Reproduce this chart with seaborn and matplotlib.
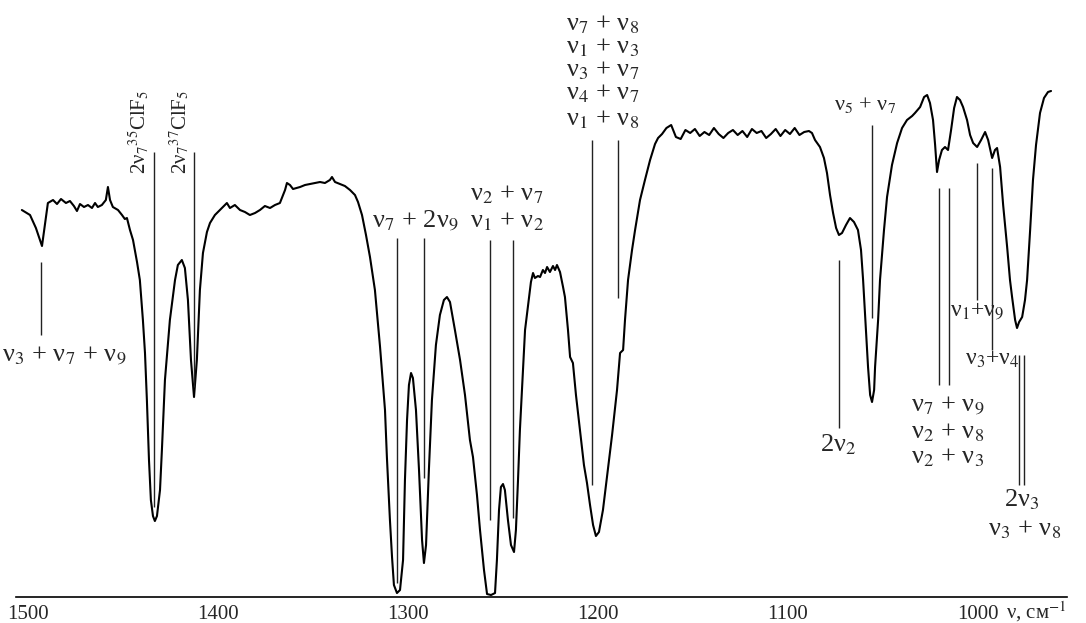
import matplotlib
matplotlib.use("Agg")
import matplotlib.pyplot as plt
import seaborn as sns

# IR spectrum: wavenumber (cm-1) and transmittance (arb. units)
wavenumber = [
    1503.2, 1498.9, 1495.8, 1492.6, 1491.1, 1489.5, 1486.8, 1484.7, 1482.6, 1480.0,
    1477.9, 1475.8, 1474.2, 1472.6, 1470.5, 1468.4, 1466.3, 1464.7, 1463.2, 1461.1,
    1459.0, 1457.9, 1456.8, 1455.3, 1452.6, 1450.5, 1449.0, 1447.9, 1446.3, 1444.7,
    1442.6, 1441.1, 1439.5, 1438.4, 1437.4, 1436.3, 1435.3, 1434.2, 1433.2, 1432.1,
    1430.5, 1429.5, 1427.9, 1425.3, 1422.6, 1421.1, 1419.0, 1417.4, 1415.8, 1414.2,
    1412.6, 1411.1, 1409.5, 1407.9, 1405.8, 1404.2, 1401.6, 1399.0, 1395.3, 1393.7,
    1391.1, 1388.4, 1385.8, 1383.2, 1380.5, 1377.9, 1375.3, 1372.6, 1370.0, 1367.4,
    1364.7, 1363.7, 1362.1, 1360.5, 1356.8, 1354.2, 1351.6, 1349.0, 1346.3, 1343.7,
    1341.1, 1340.0, 1338.4, 1335.8, 1333.2, 1330.5, 1327.9, 1326.3, 1324.2, 1322.1,
    1320.0, 1317.4, 1314.7, 1312.1, 1311.1, 1309.5, 1308.4, 1307.4, 1305.8, 1304.2,
    1302.6, 1301.6, 1300.5, 1299.5, 1298.4, 1297.4, 1295.8, 1294.2, 1292.6, 1291.6,
    1290.5, 1289.0, 1287.4, 1285.3, 1283.2, 1281.1, 1279.5, 1277.9, 1275.3, 1272.6,
    1270.0, 1267.4, 1265.8, 1263.7, 1262.1, 1260.0, 1258.4, 1256.3, 1254.2, 1253.2,
    1252.1, 1251.1, 1250.0, 1249.0, 1247.4, 1245.8, 1244.2, 1243.2, 1242.1, 1241.1,
    1239.5, 1238.4, 1236.8, 1235.3, 1234.2, 1233.2, 1231.6, 1230.5, 1229.0, 1227.9,
    1226.8, 1225.3, 1223.7, 1222.6, 1221.6, 1220.0, 1218.4, 1217.4, 1215.8, 1214.7,
    1213.2, 1211.6, 1209.5, 1207.4, 1205.8, 1204.2, 1202.6, 1201.1, 1199.5, 1197.4,
    1195.3, 1192.6, 1190.0, 1188.4, 1186.8, 1185.8, 1184.2, 1182.1, 1180.5, 1177.9,
    1175.3, 1172.6, 1170.0, 1168.4,
    1166.3, 1164.0, 1161.5, 1159.0, 1156.5, 1154.0, 1151.5, 1149.0, 1146.5, 1144.0,
    1141.5, 1139.0, 1136.5, 1134.0, 1131.5, 1129.0, 1126.5, 1124.0, 1121.5, 1119.0,
    1116.5, 1114.0, 1111.5, 1109.0, 1106.5, 1104.0, 1101.5, 1099.0, 1096.5, 1094.0,
    1091.5, 1089.0,
    1087.4, 1085.8, 1083.2, 1081.1, 1079.5, 1077.9, 1076.3, 1074.7, 1073.2, 1071.6,
    1069.5, 1067.4, 1065.3, 1063.2, 1061.6, 1060.5, 1059.0, 1057.9, 1056.8, 1055.8,
    1054.7, 1054.2, 1052.6, 1051.6, 1049.5, 1047.9, 1045.3, 1042.6, 1040.0, 1037.4,
    1034.7, 1033.2, 1030.5, 1028.4, 1026.8, 1025.3, 1023.7, 1022.6, 1021.6, 1020.5,
    1019.0, 1017.4, 1015.8, 1014.2, 1012.6, 1011.1, 1009.5, 1007.9, 1005.8, 1004.2,
    1002.6, 1000.5, 998.4, 996.3, 994.7, 992.6, 991.1, 990.0, 988.4, 986.8,
    984.7, 983.2, 982.1, 980.5, 979.5, 978.4, 976.8, 975.3, 974.2, 972.6,
    971.1, 969.5, 967.4, 965.3, 963.2, 961.6,
]
transmittance = [
    77.4, 76.4, 73.8, 70.2, 74.4, 78.8, 79.4, 78.6, 79.6, 78.8,
    79.2, 78.2, 77.2, 78.6, 78.0, 78.4, 77.8, 78.8, 78.0, 78.4,
    79.4, 82.0, 79.4, 78.0, 77.4, 76.4, 75.6, 75.8, 73.4, 71.4,
    67.0, 63.4, 55.4, 48.8, 39.4, 27.4, 19.4, 16.2, 15.2, 16.2,
    21.4, 29.4, 43.4, 55.4, 63.4, 66.4, 67.4, 65.8, 59.4, 47.4,
    40.0, 47.4, 61.4, 68.8, 73.0, 74.8, 76.4, 77.4, 78.8, 77.8,
    78.4, 77.4, 77.0, 76.4, 76.8, 77.4, 78.2, 77.8, 78.4, 78.8,
    81.4, 82.8, 82.4, 81.6, 82.0, 82.4, 82.6, 82.8, 83.0, 82.8,
    83.4, 84.0, 83.0, 82.6, 82.2, 81.4, 80.4, 79.0, 76.4, 72.4,
    68.0, 61.4, 50.0, 37.4, 28.0, 15.4, 8.0, 2.4, 0.8, 1.4,
    7.4, 23.4, 35.4, 42.4, 44.8, 43.8, 37.4, 25.4, 11.4, 6.8,
    10.4, 25.4, 39.4, 50.4, 56.4, 59.4, 60.0, 59.0, 53.4, 47.4,
    40.4, 31.4, 28.0, 20.4, 13.4, 5.4, 0.6, 0.4, 0.8, 7.4,
    17.4, 22.0, 22.6, 21.4, 15.4, 10.4, 9.0, 13.4, 23.4, 33.4,
    45.4, 53.4, 58.4, 63.0, 64.8, 63.8, 64.2, 64.0, 65.4, 64.8,
    66.0, 65.0, 66.2, 65.4, 66.4, 65.0, 62.0, 60.0, 53.4, 48.0,
    46.8, 40.4, 33.4, 26.4, 22.8, 18.4, 14.4, 12.2, 13.0, 17.4,
    24.0, 32.4, 41.4, 48.8, 49.4, 55.4, 63.4, 69.4, 73.4, 79.4,
    83.4, 87.4, 90.6, 91.8,
    92.6, 93.8, 94.4, 92.0, 91.6, 93.4, 92.8, 93.6, 92.2, 93.0,
    92.4, 93.8, 92.6, 91.8, 92.8, 93.4, 92.4, 93.2, 92.0, 93.6,
    92.8, 93.2, 91.8, 92.6, 93.6, 92.2, 93.4, 92.6, 93.8, 92.4,
    93.0, 93.2,
    92.8, 91.4, 90.0, 87.8, 84.8, 80.4, 76.8, 73.8, 72.4, 72.8,
    74.4, 75.8, 75.0, 73.4, 69.4, 63.4, 53.4, 46.0, 40.4, 39.0,
    41.4, 46.0, 55.4, 63.4, 73.4, 80.0, 86.4, 90.8, 93.8, 95.4,
    96.2, 96.8, 98.0, 100.0, 100.4, 98.8, 95.4, 90.4, 85.0, 87.4,
    89.4, 90.0, 89.4, 93.4, 97.8, 100.0, 99.4, 98.0, 95.4, 92.4,
    90.8, 90.0, 91.4, 93.0, 91.4, 87.8, 89.4, 89.8, 86.0, 78.4,
    70.0, 63.4, 60.0, 55.4, 53.8, 55.0, 56.0, 59.4, 63.4, 73.4,
    83.4, 90.4, 96.8, 99.8, 101.0, 101.2,
]

x_ticks = [1500, 1400, 1300, 1200, 1100, 1000]

# assignment lines: (wavenumber, top, bottom)
marker_lines = [
    (1493.2, 67.0, 52.4),
    (1433.7, 89.0, 18.0), (1412.6, 89.0, 42.0),
    (1305.8, 71.8, 2.8), (1291.6, 71.8, 23.8),
    (1256.8, 71.4, 15.4), (1244.7, 71.4, 15.8),
    (1203.2, 91.4, 22.4), (1189.5, 91.4, 59.8),
    (1073.2, 67.4, 33.8),
    (1055.8, 94.4, 55.8),
    (1020.5, 81.8, 42.4), (1015.3, 81.8, 42.4),
    (1000.5, 86.8, 59.4),
    (992.6, 85.8, 49.4),
    (978.4, 48.4, 22.4), (975.8, 48.4, 22.4),
]

# assignment labels: (text, wavenumber, transmittance, size)
band_labels = [
    ("ν$_7$ + 2ν$_9$", 1296.3, 75.4, 19),
    ("ν$_2$ + ν$_7$", 1247.9, 80.4, 19),
    ("ν$_1$ + ν$_2$", 1247.9, 75.0, 19),
    ("ν$_7$ + ν$_8$", 1197.4, 114.4, 19),
    ("ν$_1$ + ν$_3$", 1197.4, 109.8, 19),
    ("ν$_3$ + ν$_7$", 1197.4, 105.2, 19),
    ("ν$_4$ + ν$_7$", 1197.4, 100.6, 19),
    ("ν$_1$ + ν$_8$", 1197.4, 95.4, 19),
    ("ν$_5$ + ν$_7$", 1059.5, 98.4, 16),
    ("2ν$_2$", 1073.7, 30.4, 19),
    ("ν$_7$ + ν$_9$", 1015.8, 38.4, 19),
    ("ν$_2$ + ν$_8$", 1015.8, 32.8, 19),
    ("ν$_2$ + ν$_3$", 1015.8, 27.8, 19),
    ("ν$_1$+ν$_9$", 1000.5, 57.4, 17),
    ("ν$_3$+ν$_4$", 992.6, 47.6, 17),
    ("2ν$_3$", 976.8, 19.4, 19),
    ("ν$_3$ + ν$_8$", 975.3, 13.4, 19),
]

# isotope labels, written vertically
isotope_labels = [
    ("2ν$_7$$^{35}$ClF$_5$", 1435.3, 84.6),
    ("2ν$_7$$^{37}$ClF$_5$", 1413.7, 84.6),
]

sns.set_style("white")
plt.rcParams["font.family"] = ["Liberation Serif", "DejaVu Serif"]
plt.rcParams["mathtext.fontset"] = "stix"

fig = plt.figure(figsize=(10.86, 6.23), dpi=100)
ax = fig.add_axes([0.0147, 0.0417, 0.9678, 0.9583])

sns.lineplot(x=wavenumber, y=transmittance, ax=ax, color="black", linewidth=1.5,
             sort=False, estimator=None)

for nu, top, bottom in marker_lines:
    ax.vlines(nu, bottom, top, color="#222222", linewidth=1.0)

for text, nu, t, size in band_labels:
    ax.text(nu, t, text, ha="center", va="center", fontsize=size)

# the leftmost label starts at the figure edge
ax.text(1513.7, 48.4, "ν$_3$ + ν$_7$ + ν$_9$", ha="left", va="center", fontsize=19)

for text, nu, t in isotope_labels:
    ax.text(nu, t, text, ha="right", va="bottom", rotation=90, fontsize=15)

ax.set_xlim(1506.3, 953.2)
ax.set_ylim(0, 119.4)
ax.set_xticks(x_ticks)
ax.set_yticks([])
ax.tick_params(axis="x", direction="in", length=4, width=1.2, labelsize=15, pad=6)
for side in ["top", "left", "right"]:
    ax.spines[side].set_visible(False)
ax.spines["bottom"].set_linewidth(1.2)
ax.spines["bottom"].set_color("black")

ax.set_xlabel("ν, см$^{-1}$", fontsize=15)
ax.xaxis.set_label_coords(0.942, -0.024)
ax.xaxis.label.set_ha("left")
ax.xaxis.label.set_va("center")

fig.savefig("out.png", dpi=100)
